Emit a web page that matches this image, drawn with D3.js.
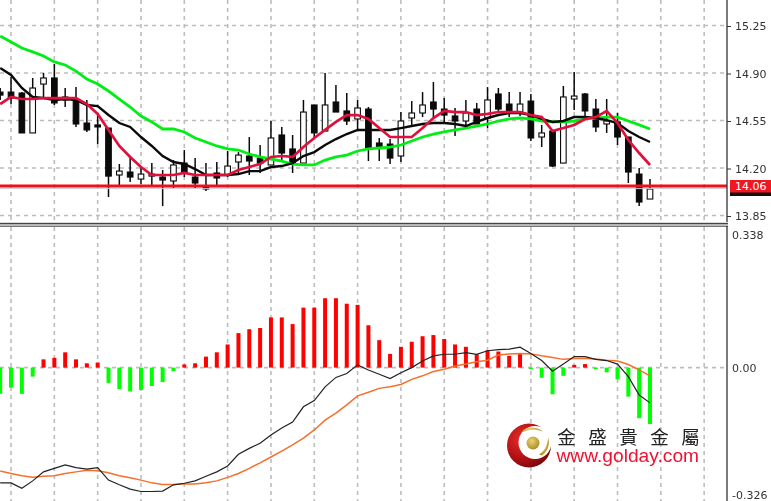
<!DOCTYPE html>
<html><head><meta charset="utf-8">
<script src="https://d3js.org/d3.v7.min.js"></script>
<style>html,body{margin:0;padding:0;background:#fff}svg{display:block;filter:blur(0.4px)}</style></head>
<body><div id="c"></div>
<script>
const opens=[14.763,14.763,14.756,14.462,14.822,14.867,14.727,14.697,14.535,14.521,14.498,14.152,14.174,14.122,14.144,14.137,14.108,14.240,14.137,14.063,14.167,14.152,14.248,14.292,14.277,14.226,14.447,14.344,14.240,14.668,14.476,14.690,14.624,14.565,14.638,14.388,14.380,14.292,14.572,14.609,14.690,14.638,14.587,14.550,14.638,14.572,14.749,14.675,14.616,14.697,14.432,14.476,14.240,14.712,14.749,14.638,14.528,14.543,14.432,14.159,13.975];
const highs=[14.793,14.874,14.763,14.867,14.904,14.970,14.793,14.800,14.705,14.594,14.498,14.233,14.277,14.203,14.240,14.189,14.262,14.336,14.277,14.240,14.248,14.329,14.321,14.432,14.373,14.550,14.506,14.447,14.705,14.668,14.904,14.815,14.756,14.705,14.653,14.425,14.417,14.616,14.697,14.763,14.837,14.719,14.646,14.705,14.683,14.800,14.793,14.763,14.763,14.749,14.521,14.476,14.808,14.911,14.756,14.712,14.712,14.609,14.432,14.203,14.122];
const lows=[14.705,14.675,14.462,14.462,14.727,14.668,14.653,14.506,14.469,14.380,13.990,14.078,14.100,14.085,14.078,13.923,14.056,14.137,14.056,14.034,14.078,14.137,14.167,14.152,14.167,14.226,14.262,14.167,14.240,14.432,14.476,14.616,14.521,14.484,14.255,14.255,14.233,14.248,14.521,14.579,14.572,14.543,14.439,14.521,14.528,14.498,14.609,14.579,14.587,14.403,14.358,14.211,14.240,14.631,14.579,14.469,14.462,14.373,14.093,13.923,13.975];
const closes=[14.741,14.719,14.462,14.793,14.867,14.683,14.705,14.528,14.484,14.506,14.144,14.181,14.137,14.159,14.159,14.115,14.226,14.167,14.093,14.049,14.130,14.218,14.299,14.255,14.240,14.425,14.314,14.240,14.616,14.462,14.668,14.616,14.550,14.646,14.344,14.351,14.277,14.550,14.609,14.668,14.638,14.594,14.550,14.609,14.528,14.705,14.638,14.616,14.675,14.425,14.462,14.218,14.727,14.734,14.624,14.506,14.550,14.432,14.174,13.953,14.049];
const maFast=[14.675,14.727,14.712,14.712,14.719,14.719,14.719,14.719,14.675,14.602,14.484,14.366,14.285,14.211,14.152,14.152,14.152,14.167,14.152,14.152,14.152,14.152,14.189,14.211,14.233,14.285,14.292,14.285,14.358,14.425,14.484,14.543,14.594,14.594,14.565,14.498,14.432,14.432,14.432,14.498,14.572,14.624,14.616,14.616,14.594,14.602,14.616,14.616,14.616,14.594,14.579,14.476,14.498,14.521,14.565,14.579,14.624,14.535,14.410,14.314,14.226];
const maMid=[14.940,14.889,14.793,14.727,14.719,14.705,14.712,14.705,14.668,14.660,14.594,14.535,14.506,14.432,14.366,14.292,14.248,14.233,14.196,14.152,14.152,14.152,14.159,14.181,14.181,14.211,14.218,14.240,14.292,14.321,14.373,14.417,14.454,14.484,14.484,14.484,14.484,14.498,14.513,14.528,14.535,14.535,14.528,14.513,14.543,14.572,14.594,14.609,14.609,14.594,14.565,14.543,14.550,14.579,14.579,14.572,14.557,14.535,14.476,14.432,14.395];
const maSlow=[15.176,15.132,15.088,15.059,15.029,14.985,14.963,14.918,14.859,14.822,14.771,14.712,14.653,14.587,14.543,14.491,14.491,14.469,14.425,14.395,14.366,14.344,14.336,14.307,14.285,14.270,14.255,14.233,14.226,14.226,14.262,14.285,14.299,14.329,14.344,14.351,14.358,14.373,14.403,14.432,14.454,14.469,14.484,14.498,14.513,14.528,14.550,14.565,14.572,14.565,14.550,14.543,14.543,14.550,14.565,14.572,14.579,14.579,14.550,14.521,14.491];
const histogram=[-0.067,-0.051,-0.067,-0.023,0.021,0.025,0.039,0.021,0.011,0.013,-0.039,-0.055,-0.061,-0.057,-0.047,-0.037,-0.009,0.008,0.011,0.028,0.039,0.059,0.088,0.098,0.101,0.128,0.128,0.111,0.153,0.153,0.177,0.177,0.163,0.160,0.108,0.070,0.035,0.053,0.066,0.080,0.083,0.073,0.059,0.053,0.034,0.044,0.041,0.030,0.035,-0.004,-0.026,-0.068,-0.021,0.007,0.009,-0.004,-0.012,-0.030,-0.074,-0.129,-0.144];
const macdLine=[-0.294,-0.294,-0.308,-0.289,-0.266,-0.257,-0.248,-0.255,-0.259,-0.255,-0.287,-0.299,-0.310,-0.316,-0.316,-0.315,-0.299,-0.295,-0.289,-0.277,-0.266,-0.251,-0.221,-0.206,-0.193,-0.172,-0.154,-0.139,-0.100,-0.084,-0.049,-0.025,-0.015,0.007,-0.006,-0.017,-0.028,-0.013,0.000,0.017,0.030,0.034,0.034,0.038,0.034,0.043,0.046,0.047,0.052,0.036,0.018,-0.009,0.009,0.028,0.028,0.021,0.018,0.009,-0.023,-0.070,-0.090];
const signalLine=[-0.264,-0.270,-0.276,-0.280,-0.277,-0.276,-0.270,-0.266,-0.262,-0.263,-0.268,-0.276,-0.281,-0.287,-0.294,-0.298,-0.298,-0.297,-0.297,-0.294,-0.289,-0.280,-0.270,-0.257,-0.243,-0.228,-0.213,-0.197,-0.180,-0.159,-0.134,-0.116,-0.095,-0.072,-0.063,-0.053,-0.049,-0.043,-0.030,-0.021,-0.010,-0.004,0.004,0.009,0.015,0.019,0.032,0.035,0.036,0.035,0.030,0.026,0.021,0.023,0.023,0.022,0.019,0.017,0.008,-0.006,-0.021];
const priceTicks=[15.25,14.90,14.55,14.20,13.85];
const macdTickLabels=[0.338,0,-0.326];
const lastPrice=14.071, lastPriceLabel="14.06";
const gridEvery=4, gridBars=d3.range(1,66,gridEvery);
const logoCn=["金","盛","貴","金","屬"], logoUrl="www.golday.com";

const W=771,H=501,axisX=727;
const svg=d3.select("#c").append("svg").attr("width",W).attr("height",H).attr("viewBox",`0 0 ${W} ${H}`);
const x=d3.scaleLinear().domain([0,60]).range([0.2,650]);
const yP=d3.scaleLinear().domain([13.85,15.25]).range([216,26]);
const yM=d3.scaleLinear().domain([-0.326,0.338]).range([495.4,235.1]);
const defs=svg.append("defs");
defs.append("clipPath").attr("id","top").append("rect").attr("width",axisX).attr("height",222);
defs.append("clipPath").attr("id","bot").append("rect").attr("y",227).attr("width",axisX).attr("height",H-227);
const g1=svg.append("g").attr("clip-path","url(#top)");
const g2=svg.append("g").attr("clip-path","url(#bot)");
const gridC="#bdbdbd";
function vgrid(g,y0,y1){g.selectAll(null).data(gridBars).join("line").attr("x1",d=>x(d)).attr("x2",d=>x(d)).attr("y1",y0).attr("y2",y1).attr("stroke",gridC).attr("stroke-width",1.6).attr("stroke-dasharray","4 4");}
vgrid(g1,0,222);vgrid(g2,227,H);
g1.selectAll(null).data(priceTicks).join("line").attr("x1",0).attr("x2",axisX).attr("y1",d=>yP(d)-.5).attr("y2",d=>yP(d)-.5).attr("stroke",gridC).attr("stroke-width",1.6).attr("stroke-dasharray","4 4");
g2.append("line").attr("x1",0).attr("x2",axisX).attr("y1",yM(0)).attr("y2",yM(0)).attr("stroke",gridC).attr("stroke-width",1.6).attr("stroke-dasharray","4 4");
const idx=d3.range(opens.length);
const ink="#0a0a0a";
g1.selectAll(".w").data(idx).join("line").attr("x1",i=>x(i)).attr("x2",i=>x(i)).attr("y1",i=>yP(highs[i])).attr("y2",i=>yP(lows[i])).attr("stroke",ink).attr("stroke-width",1.5);
g1.selectAll(".b").data(idx).join("rect").attr("x",i=>x(i)-2.8).attr("width",5.6)
 .attr("y",i=>yP(Math.max(opens[i],closes[i]))).attr("height",i=>Math.max(1,Math.abs(yP(opens[i])-yP(closes[i]))))
 .attr("fill",i=>closes[i]>opens[i]?"#fff":ink).attr("stroke",ink).attr("stroke-width",1.1);
const lp=(s,y)=>d3.line().x((d,i)=>x(i)).y(d=>y(d))(s);
g1.append("line").attr("x1",0).attr("x2",axisX).attr("y1",yP(lastPrice)+2.6).attr("y2",yP(lastPrice)+2.6).attr("stroke","#c8ccd6").attr("stroke-width",1);
g1.append("path").attr("d",lp(maSlow,yP)).attr("fill","none").attr("stroke","#00ee14").attr("stroke-width",2.8);
g1.append("path").attr("d",lp(maMid,yP)).attr("fill","none").attr("stroke","#0a0a0a").attr("stroke-width",2.4);
g1.append("path").attr("d",lp(maFast,yP)).attr("fill","none").attr("stroke","#e0103c").attr("stroke-width",2.7);
g1.append("line").attr("x1",0).attr("x2",axisX).attr("y1",yP(lastPrice)).attr("y2",yP(lastPrice)).attr("stroke","#ee1118").attr("stroke-width",3);
g2.selectAll(".h").data(idx).join("rect").attr("x",i=>x(i)-2).attr("width",4)
 .attr("y",i=>Math.min(yM(0),yM(histogram[i]))).attr("height",i=>Math.abs(yM(histogram[i])-yM(0)))
 .attr("fill",i=>histogram[i]>=0?"#ff0000":"#00ff00");
g2.append("path").attr("d",lp(signalLine,yM)).attr("fill","none").attr("stroke","#f4702c").attr("stroke-width",1.5);
g2.append("path").attr("d",lp(macdLine,yM)).attr("fill","none").attr("stroke","#222").attr("stroke-width",1.2);
svg.append("rect").attr("x",0).attr("y",222.8).attr("width",axisX+1).attr("height",1.6).attr("fill","#444");
svg.append("rect").attr("x",0).attr("y",225.6).attr("width",axisX+1).attr("height",1.2).attr("fill","#555");
const fmtP=d3.format(".2f");
const ax1=svg.append("g").attr("transform",`translate(${axisX},0)`).call(d3.axisRight(yP).tickValues(priceTicks).tickFormat(fmtP).tickSize(4).tickPadding(4));
const ax2=svg.append("g").attr("transform",`translate(${axisX},0)`).call(d3.axisRight(yM).tickValues(macdTickLabels).tickFormat(d=>d===0?"0.00":d3.format(".3f")(d).replace("\u2212","-")).tickSize(0).tickPadding(5));
[ax1,ax2].forEach(a=>{a.select(".domain").remove();a.selectAll("text").attr("font-family","'DejaVu Sans',sans-serif").attr("font-size",11).attr("fill","#333");a.selectAll("line").attr("stroke","#333");});
ax2.selectAll("line").remove();
svg.append("line").attr("x1",axisX).attr("x2",axisX).attr("y1",0).attr("y2",222).attr("stroke","#333").attr("stroke-width",1.3);
svg.append("line").attr("x1",axisX).attr("x2",axisX).attr("y1",226).attr("y2",H).attr("stroke","#333").attr("stroke-width",1.3);
svg.append("rect").attr("x",730).attr("y",192).attr("width",41).attr("height",4).attr("fill","#111");
svg.append("rect").attr("x",730).attr("y",180).attr("width",41).attr("height",12.5).attr("fill","#f01820");
svg.append("text").attr("x",735).attr("y",190.3).attr("font-family","'DejaVu Sans',sans-serif").attr("font-size",11).attr("fill","#fff").text(lastPriceLabel);
const grad=defs.append("radialGradient").attr("id","lg").attr("cx","35%").attr("cy","35%").attr("r","75%");
grad.append("stop").attr("offset","0%").attr("stop-color","#e8302c");grad.append("stop").attr("offset","60%").attr("stop-color","#b01014");grad.append("stop").attr("offset","100%").attr("stop-color","#6e0608");
const gold=defs.append("radialGradient").attr("id","gd").attr("cx","40%").attr("cy","35%").attr("r","70%");
gold.append("stop").attr("offset","0%").attr("stop-color","#ead27a");gold.append("stop").attr("offset","100%").attr("stop-color","#a88a1c");
const lg=svg.append("g").attr("transform","translate(529,445.5)");
lg.append("circle").attr("r",22).attr("fill","url(#lg)");
lg.append("circle").attr("cx",6).attr("cy",-3).attr("r",16.5).attr("fill","#fff");
lg.append("circle").attr("cx",4).attr("cy",-2.5).attr("r",6.5).attr("fill","url(#gd)");
lg.append("path").attr("d","M-8,-13 C-3,-20 8,-19 14,-14 C6,-17 -1,-16 -8,-13Z").attr("fill","url(#gd)");
lg.append("path").attr("d","M13,10 C20,5 21,-3 19,-8 C19,0 15,6 10,9Z").attr("fill","url(#gd)");
const cnScale=d3.scalePoint().domain(d3.range(logoCn.length)).range([566.5,690.5]);
svg.selectAll(".cn").data(logoCn).join("text").attr("x",(d,i)=>cnScale(i)).attr("y",443.5).attr("text-anchor","middle")
 .attr("font-family","'Noto Sans CJK TC',sans-serif").attr("font-size",18.5).attr("fill","#222").text(d=>d);
svg.append("text").attr("x",556.5).attr("y",462).attr("font-family","'Liberation Sans',Arial,sans-serif").attr("font-size",19.2).attr("fill","#f01030").text(logoUrl);
</script></body></html>
